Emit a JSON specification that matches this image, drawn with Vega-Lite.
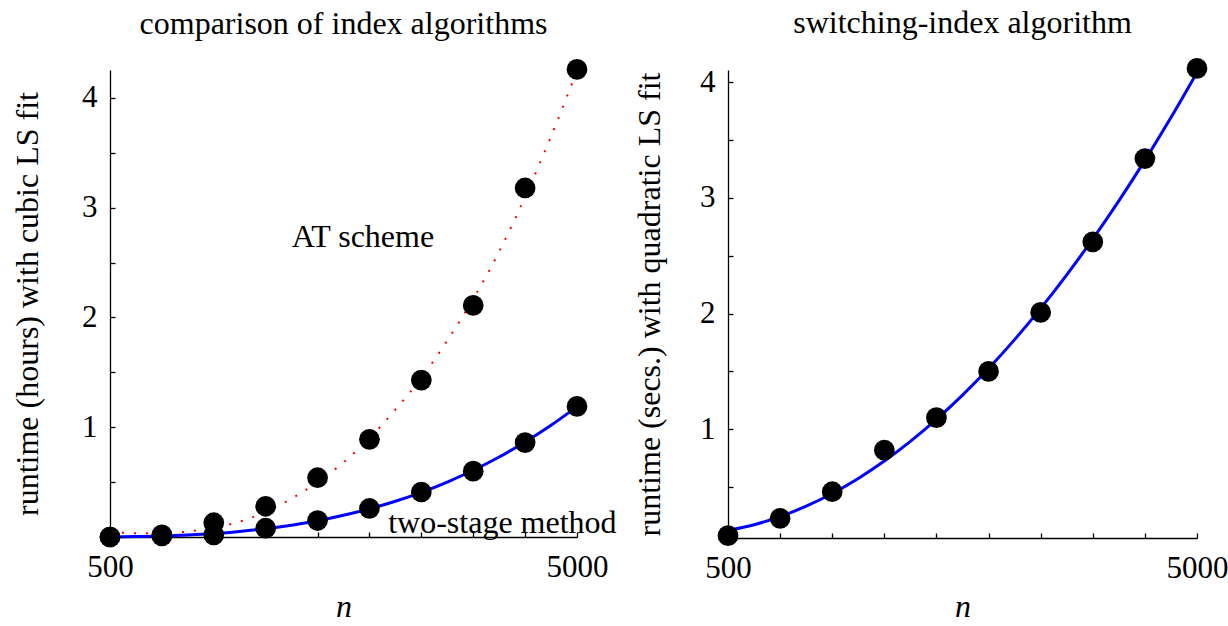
{
  "$schema": "https://vega.github.io/schema/vega-lite/v6.json",
  "background": "white",
  "padding": {"left": 10, "top": 7, "right": 0, "bottom": 0},
  "config": {
    "font": "Liberation Serif",
    "view": {"stroke": null},
    "title": {"fontSize": 32, "fontWeight": "normal", "color": "black", "anchor": "middle", "baseline": "alphabetic", "offset": 18, "frame": "group"},
    "axis": {
      "grid": false,
      "domainColor": "black",
      "domainWidth": 1.3,
      "tickColor": "black",
      "tickWidth": 1.3,
      "tickSize": -5,
      "labelFontSize": 31,
      "labelColor": "black",
      "labelFlush": false,
      "labelOverlap": false,
      "titleFontSize": 32,
      "titleFontWeight": "normal",
      "titleColor": "black"
    }
  },
  "datasets": {
    "leftPoints": [
      {"n": 500, "runtime": 0.0, "method": "AT scheme"},
      {"n": 1000, "runtime": 0.02, "method": "AT scheme"},
      {"n": 1500, "runtime": 0.13, "method": "AT scheme"},
      {"n": 2000, "runtime": 0.28, "method": "AT scheme"},
      {"n": 2500, "runtime": 0.54, "method": "AT scheme"},
      {"n": 3000, "runtime": 0.89, "method": "AT scheme"},
      {"n": 3500, "runtime": 1.43, "method": "AT scheme"},
      {"n": 4000, "runtime": 2.11, "method": "AT scheme"},
      {"n": 4500, "runtime": 3.18, "method": "AT scheme"},
      {"n": 5000, "runtime": 4.26, "method": "AT scheme"},
      {"n": 500, "runtime": 0.0, "method": "two-stage method"},
      {"n": 1000, "runtime": 0.01, "method": "two-stage method"},
      {"n": 1500, "runtime": 0.02, "method": "two-stage method"},
      {"n": 2000, "runtime": 0.08, "method": "two-stage method"},
      {"n": 2500, "runtime": 0.15, "method": "two-stage method"},
      {"n": 3000, "runtime": 0.26, "method": "two-stage method"},
      {"n": 3500, "runtime": 0.41, "method": "two-stage method"},
      {"n": 4000, "runtime": 0.60, "method": "two-stage method"},
      {"n": 4500, "runtime": 0.86, "method": "two-stage method"},
      {"n": 5000, "runtime": 1.19, "method": "two-stage method"}
    ],
    "leftLabels": [
      {"n": 2937, "runtime": 2.73, "label": "AT scheme"},
      {"n": 4281, "runtime": 0.13, "label": "two-stage method"}
    ],
    "leftFit": [
      {"n": 500, "runtime": 0.045, "method": "AT scheme"},
      {"n": 750, "runtime": 0.035, "method": "AT scheme"},
      {"n": 1000, "runtime": 0.035, "method": "AT scheme"},
      {"n": 1250, "runtime": 0.05, "method": "AT scheme"},
      {"n": 1500, "runtime": 0.085, "method": "AT scheme"},
      {"n": 1750, "runtime": 0.14, "method": "AT scheme"},
      {"n": 2000, "runtime": 0.23, "method": "AT scheme"},
      {"n": 2250, "runtime": 0.35, "method": "AT scheme"},
      {"n": 2500, "runtime": 0.5, "method": "AT scheme"},
      {"n": 2750, "runtime": 0.68, "method": "AT scheme"},
      {"n": 3000, "runtime": 0.9, "method": "AT scheme"},
      {"n": 3250, "runtime": 1.16, "method": "AT scheme"},
      {"n": 3500, "runtime": 1.45, "method": "AT scheme"},
      {"n": 3750, "runtime": 1.79, "method": "AT scheme"},
      {"n": 4000, "runtime": 2.17, "method": "AT scheme"},
      {"n": 4250, "runtime": 2.6, "method": "AT scheme"},
      {"n": 4500, "runtime": 3.1, "method": "AT scheme"},
      {"n": 4750, "runtime": 3.65, "method": "AT scheme"},
      {"n": 5000, "runtime": 4.25, "method": "AT scheme"},
      {"n": 500, "runtime": 0.001, "method": "two-stage method"},
      {"n": 750, "runtime": 0.004, "method": "two-stage method"},
      {"n": 1000, "runtime": 0.0095, "method": "two-stage method"},
      {"n": 1250, "runtime": 0.019, "method": "two-stage method"},
      {"n": 1500, "runtime": 0.032, "method": "two-stage method"},
      {"n": 1750, "runtime": 0.051, "method": "two-stage method"},
      {"n": 2000, "runtime": 0.076, "method": "two-stage method"},
      {"n": 2250, "runtime": 0.108, "method": "two-stage method"},
      {"n": 2500, "runtime": 0.148, "method": "two-stage method"},
      {"n": 2750, "runtime": 0.198, "method": "two-stage method"},
      {"n": 3000, "runtime": 0.257, "method": "two-stage method"},
      {"n": 3250, "runtime": 0.326, "method": "two-stage method"},
      {"n": 3500, "runtime": 0.407, "method": "two-stage method"},
      {"n": 3750, "runtime": 0.501, "method": "two-stage method"},
      {"n": 4000, "runtime": 0.608, "method": "two-stage method"},
      {"n": 4250, "runtime": 0.729, "method": "two-stage method"},
      {"n": 4500, "runtime": 0.866, "method": "two-stage method"},
      {"n": 4750, "runtime": 1.018, "method": "two-stage method"},
      {"n": 5000, "runtime": 1.188, "method": "two-stage method"}
    ],
    "rightPoints": [
      {"n": 500, "runtime": 0.08},
      {"n": 1000, "runtime": 0.23},
      {"n": 1500, "runtime": 0.46},
      {"n": 2000, "runtime": 0.82},
      {"n": 2500, "runtime": 1.10},
      {"n": 3000, "runtime": 1.50},
      {"n": 3500, "runtime": 2.01},
      {"n": 4000, "runtime": 2.62},
      {"n": 4500, "runtime": 3.34},
      {"n": 5000, "runtime": 4.12}
    ],
    "rightFit": [
      {"n": 500, "runtime": 0.125},
      {"n": 750, "runtime": 0.175},
      {"n": 1000, "runtime": 0.245},
      {"n": 1250, "runtime": 0.335},
      {"n": 1500, "runtime": 0.445},
      {"n": 1750, "runtime": 0.575},
      {"n": 2000, "runtime": 0.725},
      {"n": 2250, "runtime": 0.895},
      {"n": 2500, "runtime": 1.085},
      {"n": 2750, "runtime": 1.295},
      {"n": 3000, "runtime": 1.525},
      {"n": 3250, "runtime": 1.775},
      {"n": 3500, "runtime": 2.045},
      {"n": 3750, "runtime": 2.335},
      {"n": 4000, "runtime": 2.645},
      {"n": 4250, "runtime": 2.975},
      {"n": 4500, "runtime": 3.325},
      {"n": 4750, "runtime": 3.695},
      {"n": 5000, "runtime": 4.085}
    ]
  },
  "bounds": "flush",
  "spacing": 151,
  "hconcat": [
    {
      "width": 467,
      "height": 467,
      "title": "comparison of index algorithms",
      "encoding": {
        "x": {
          "field": "n", "type": "quantitative",
          "scale": {"domain": [500, 5000], "nice": false, "zero": false},
          "axis": {
            "values": [500, 1000, 1500, 2000, 2500, 3000, 3500, 4000, 4500, 5000],
            "labelExpr": "datum.value == 500 || datum.value == 5000 ? format(datum.value, 'd') : ''",
            "labelPadding": 20,
            "title": "n",
            "titleFontStyle": "italic",
            "titleBaseline": "alphabetic",
            "titleY": 79
          }
        },
        "y": {
          "field": "runtime", "type": "quantitative",
          "scale": {"domain": [0, 4.255], "nice": false, "zero": false},
          "axis": {
            "values": [0.5, 1, 1.5, 2, 2.5, 3, 3.5, 4],
            "labelExpr": "datum.value % 1 == 0 ? format(datum.value, 'd') : ''",
            "labelPadding": 18,
            "title": "runtime (hours) with cubic LS fit",
            "titleBaseline": "alphabetic",
            "titleX": -73
          }
        }
      },
      "layer": [
        {
          "data": {"name": "leftFit"},
          "transform": [{"filter": "datum.method == 'two-stage method'"}],
          "mark": {"type": "line", "color": "#0000ff", "strokeWidth": 3, "interpolate": "monotone"}
        },
        {
          "data": {"name": "leftFit"},
          "transform": [{"filter": "datum.method == 'AT scheme'"}],
          "mark": {"type": "line", "color": "#ff0000", "strokeWidth": 2, "strokeDash": [2, 10], "interpolate": "monotone"}
        },
        {
          "data": {"name": "leftPoints"},
          "mark": {"type": "circle", "color": "black", "opacity": 1, "size": 430}
        },
        {
          "data": {"name": "leftLabels"},
          "mark": {"type": "text", "fontSize": 32, "color": "black", "align": "center", "baseline": "middle"},
          "encoding": {"text": {"field": "label", "type": "nominal"}}
        }
      ]
    },
    {
      "width": 469,
      "height": 468,
      "title": "switching-index algorithm",
      "encoding": {
        "x": {
          "field": "n", "type": "quantitative",
          "scale": {"domain": [500, 5000], "nice": false, "zero": false},
          "axis": {
            "values": [500, 1000, 1500, 2000, 2500, 3000, 3500, 4000, 4500, 5000],
            "labelExpr": "datum.value == 500 || datum.value == 5000 ? format(datum.value, 'd') : ''",
            "labelPadding": 20,
            "title": "n",
            "titleFontStyle": "italic",
            "titleBaseline": "alphabetic",
            "titleY": 78
          }
        },
        "y": {
          "field": "runtime", "type": "quantitative",
          "scale": {"domain": [0.06, 4.106], "nice": false, "zero": false},
          "axis": {
            "values": [0.5, 1, 1.5, 2, 2.5, 3, 3.5, 4],
            "labelExpr": "datum.value % 1 == 0 ? format(datum.value, 'd') : ''",
            "labelPadding": 18,
            "title": "runtime (secs.) with quadratic LS fit",
            "titleBaseline": "alphabetic",
            "titleX": -69
          }
        }
      },
      "layer": [
        {
          "data": {"name": "rightFit"},
          "mark": {"type": "line", "color": "#0000ff", "strokeWidth": 3, "interpolate": "monotone"}
        },
        {
          "data": {"name": "rightPoints"},
          "mark": {"type": "circle", "color": "black", "opacity": 1, "size": 430}
        }
      ]
    }
  ]
}
